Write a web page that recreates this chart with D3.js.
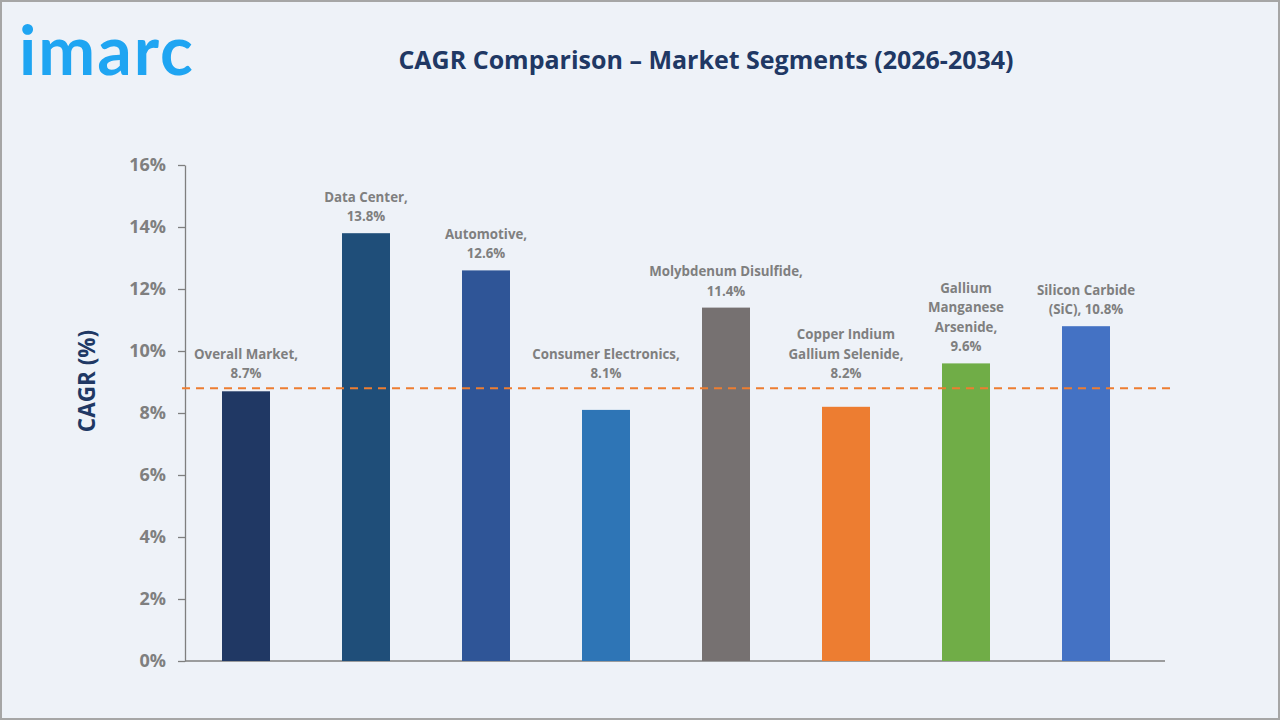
<!DOCTYPE html>
<html>
<head>
<meta charset="utf-8">
<script src="https://cdn.jsdelivr.net/npm/d3@7"></script>
<style>
  html, body { margin: 0; padding: 0; background: #eef2f8; }
  svg { display: block; }
</style>
</head>
<body>
<div class="container"></div>
<script>
// Chart data
const categories = ["Overall Market", "Data Center", "Automotive", "Consumer Electronics",
                    "Molybdenum Disulfide", "Copper Indium Gallium Selenide",
                    "Gallium Manganese Arsenide", "Silicon Carbide (SiC)"];
const cagrValues = [8.7, 13.8, 12.6, 8.1, 11.4, 8.2, 9.6, 10.8];
// how each data label is broken into lines (value appended on last line)
const labelLines = [
  ["Overall Market,"],
  ["Data Center,"],
  ["Automotive,"],
  ["Consumer Electronics,"],
  ["Molybdenum Disulfide,"],
  ["Copper Indium", "Gallium Selenide,"],
  ["Gallium", "Manganese", "Arsenide,"],
  ["Silicon Carbide"]
];
const yTicks = [0, 2, 4, 6, 8, 10, 12, 14, 16];
const referenceValue = 8.8;   // dashed line (overall market level)

// Colours for each bar
const barColors = ["#203864", "#1f4e79", "#2f5597", "#2e75b6", "#767171", "#ed7d31", "#70ad47", "#4472c4"];

const width = 1280;
const height = 720;
const font = "'Open Sans', 'Noto Sans', sans-serif";

const svg = d3.select(".container")
  .append("svg")
  .attr("width", width)
  .attr("height", height);

// background + border
svg.append("rect")
  .attr("x", 1).attr("y", 1)
  .attr("width", width - 2).attr("height", height - 2)
  .attr("fill", "#eef2f8")
  .attr("stroke", "#a6a6a6")
  .attr("stroke-width", 2);

// logo
svg.append("text")
  .attr("x", 19).attr("y", 75)
  .attr("font-family", "Lato, sans-serif")
  .attr("font-weight", 700)
  .attr("font-size", 68)
  .attr("letter-spacing", 2)
  .attr("fill", "#1fa5f2")
  .text("imarc");

// title
svg.append("text")
  .attr("x", 706).attr("y", 69)
  .attr("text-anchor", "middle")
  .attr("font-family", font)
  .attr("font-weight", 700)
  .attr("font-size", 25)
  .attr("fill", "#203864")
  .text("CAGR Comparison \u2013 Market Segments (2026-2034)");

// scales
const x = d3.scaleBand()
  .domain(categories)
  .range([186, 1146])
  .paddingInner(0.6)
  .paddingOuter(0.3);

const y = d3.scaleLinear()
  .domain([0, 16])
  .range([661, 165]);

// y axis
const yAxis = d3.axisLeft(y)
  .tickValues(yTicks)
  .tickFormat(d => d + "%")
  .tickSize(7)
  .tickSizeOuter(0)
  .tickPadding(12);

const gy = svg.append("g")
  .attr("transform", "translate(185,0)")
  .call(yAxis);
gy.select(".domain").attr("stroke", "#7f7f7f").attr("stroke-width", 1.3);
gy.selectAll(".tick line").attr("stroke", "#7f7f7f").attr("stroke-width", 1.3);
gy.selectAll(".tick text")
  .attr("font-family", font)
  .attr("font-weight", 700)
  .attr("font-size", 18)
  .attr("fill", "#7f7f7f");

// x axis baseline
svg.append("line")
  .attr("x1", 185).attr("x2", 1165)
  .attr("y1", y(0)).attr("y2", y(0))
  .attr("stroke", "#7f7f7f")
  .attr("stroke-width", 1.5);

// y axis title
svg.append("text")
  .attr("transform", "translate(95,381) rotate(-90)")
  .attr("text-anchor", "middle")
  .attr("font-family", font)
  .attr("font-weight", 700)
  .attr("font-size", 22.5)
  .attr("fill", "#203864")
  .text("CAGR (%)");

// bars
svg.append("g")
  .selectAll("rect")
  .data(categories)
  .enter()
  .append("rect")
  .attr("x", d => x(d))
  .attr("width", x.bandwidth())
  .attr("y", (d, i) => y(cagrValues[i]))
  .attr("height", (d, i) => y(0) - y(cagrValues[i]))
  .attr("fill", (d, i) => barColors[i]);

// dashed reference line
svg.append("line")
  .attr("x1", 182).attr("x2", 1172)
  .attr("y1", y(referenceValue)).attr("y2", y(referenceValue))
  .attr("stroke", "#ed7d31")
  .attr("stroke-width", 2)
  .attr("stroke-dasharray", "8,6");

// data labels - kept above the dashed line
const lineGap = 19.5;
const labels = svg.append("g")
  .selectAll("text")
  .data(categories)
  .enter()
  .append("text")
  .attr("text-anchor", "middle")
  .attr("font-family", font)
  .attr("font-weight", 700)
  .attr("font-size", 13.3)
  .attr("fill", "#7f7f7f");

labels.each(function (d, i) {
  const lines = labelLines[i].slice();
  const val = cagrValues[i].toFixed(1) + "%";
  if (i === 7) lines.push("(SiC), " + val); else lines.push(val);
  const cx = x(d) + x.bandwidth() / 2;
  const lastBase = Math.min(y(cagrValues[i]) - 12, y(referenceValue) - 10);
  const t = d3.select(this);
  lines.forEach((ln, k) => {
    t.append("tspan")
      .attr("x", cx)
      .attr("y", lastBase - (lines.length - 1 - k) * lineGap)
      .text(ln);
  });
});
</script>
</body>
</html>
